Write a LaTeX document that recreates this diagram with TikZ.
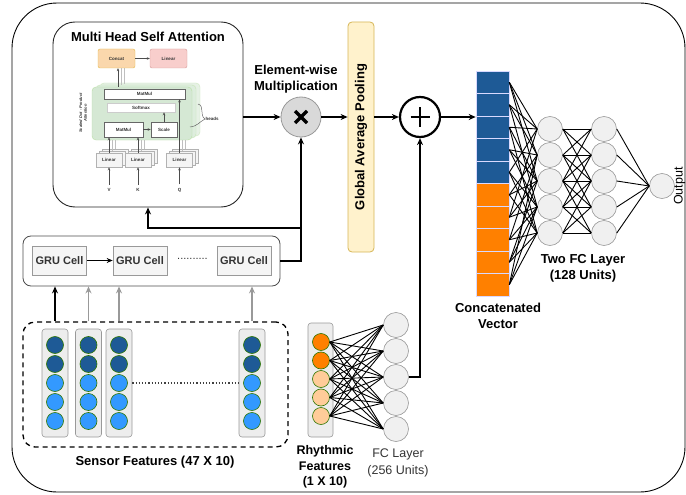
\documentclass[tikz,border=0pt]{standalone}
\usepackage{fontspec}
\setmainfont{Liberation Sans}
\usetikzlibrary{arrows.meta,calc}
\definecolor{dblue}{HTML}{1E5A96}
\definecolor{lblue}{HTML}{3399FF}
\definecolor{dorange}{HTML}{FF8000}
\definecolor{lorange}{HTML}{FFCC99}
\definecolor{cgreen}{HTML}{2D7600}
\definecolor{ngray}{HTML}{F0F0F0}
\definecolor{sgray}{HTML}{999999}
\definecolor{gapfill}{HTML}{FFF2CC}
\definecolor{gapdraw}{HTML}{D6B656}
\definecolor{concfill}{HTML}{FAD7AC}
\definecolor{concdraw}{HTML}{D79B00}
\definecolor{linfill}{HTML}{F8CECC}
\definecolor{lindraw}{HTML}{B85450}
\definecolor{grfill}{HTML}{D5E8D4}
\definecolor{grdraw}{HTML}{B9E0A5}
\definecolor{txt}{HTML}{333333}
\begin{document}
\begin{tikzpicture}[x=1pt,y=-1pt,
  arr/.style={-{Stealth[length=7pt,width=6pt]}, line width=1.1pt},
  garr/.style={-{Stealth[length=7pt,width=6pt]}, line width=1.1pt, draw=sgray},
  tarr/.style={-{Stealth[length=3pt,width=2.5pt]}, line width=0.6pt, draw=black!70},
  faint/.style={line width=0.5pt, draw=black!25},
  neuron/.style={circle, draw=sgray, fill=ngray, minimum size=25pt, inner sep=0pt, line width=0.6pt},
  feat/.style={circle, draw=cgreen, minimum size=17pt, inner sep=0pt, line width=0.6pt},
  colrect/.style={rectangle, rounded corners=3pt, draw=sgray, fill=black!7, minimum width=26pt, minimum height=108pt, inner sep=0pt, line width=0.6pt},
  cell/.style={rectangle, draw=white!85!blue, line width=0.6pt, minimum width=33pt, minimum height=22.5pt, inner sep=0pt},
  grucell/.style={rectangle, draw=sgray, fill=black!4, minimum width=54pt, minimum height=29pt, inner sep=0pt, font=\fontsize{11}{13}\selectfont\bfseries, text=txt, line width=0.7pt},
  tiny/.style={font=\fontsize{4.5}{5.5}\selectfont\bfseries, text=txt},
  inbox/.style={rectangle, draw=black!60, fill=white, inner sep=0pt, line width=0.5pt, tiny},
  linbox/.style={rectangle, draw=black!30, fill=white!96!black, minimum width=26pt, minimum height=14pt, inner sep=0pt, line width=0.5pt, tiny},
  lbl/.style={font=\fontsize{13}{16}\selectfont\bfseries, align=center},
  nn/.style={line width=0.9pt}]
\useasboundingbox (0,0) rectangle (686,495);

% outer frame
\draw[line width=0.9pt, rounded corners=45pt] (12,3) rectangle (685,492);

% ---------------- Multi head self attention ----------------
\node[draw=black!85, line width=0.9pt, rounded corners=22pt, minimum width=190pt, minimum height=185pt, inner sep=0pt] (mhsa) at (148,114.5) {};
\node[font=\fontsize{13}{15}\selectfont\bfseries] (mtitle) at (148,37) {Multi Head Self Attention};

\node[rectangle, rounded corners=2pt, draw=concdraw!70, fill=concfill, minimum width=37pt, minimum height=19pt, inner sep=0pt, tiny] (concat) at (116.5,58.5) {Concat};
\node[rectangle, rounded corners=2pt, draw=lindraw!60, fill=linfill, minimum width=37pt, minimum height=19pt, inner sep=0pt, tiny] (lin) at (168.5,58.5) {Linear};
\draw[tarr] (concat) -- (lin);

% green stacked layers
\draw[rounded corners=4pt, fill=grfill!60, draw=grdraw!70, line width=0.4pt] (100,83) rectangle (200,136);
\draw[rounded corners=4pt, fill=grfill!80, draw=grdraw!80, line width=0.4pt] (96,85) rectangle (196,138);
\draw[rounded corners=4pt, fill=grfill, draw=grdraw, line width=0.4pt] (92,87) rectangle (192,140);
\coordinate (gtop) at (118,87);
\coordinate (gbot) at (118,140);

\node[inbox, minimum width=81pt, minimum height=10pt] (mm2) at (144.5,94) {MatMul};
\node[inbox, draw=black!20, minimum width=68pt, minimum height=9pt] (sm) at (141,107.5) {Softmax};
\node[inbox, minimum width=39pt, minimum height=15pt] (mm1) at (123.5,129.5) {MatMul};
\node[inbox, minimum width=26pt, minimum height=15pt] (sc) at (164,129.5) {Scale};
\draw[tarr] (mm1) -- (sc);
\draw[tarr] (sc.north) -- (sc.north |- sm.south);

\node[rotate=90, align=center, font=\fontsize{4}{4.8}\selectfont\bfseries\itshape, text=txt] (sdpa) at (83,113) {Scaled Dot - Product\\Attention};

% heads brace
\draw[black!60, line width=0.5pt] (198,104) .. controls (205,106) and (199,115) .. (205,119) .. controls (199,122) and (198,126) .. (190,127);
\node[tiny, anchor=west, inner sep=0.5pt] (heads) at (205,119) {heads};

% linear boxes with stacked copies
\foreach \n/\x/\l in {lv/109/V,lk/138/K,lq/179.5/Q} {
  \node[linbox] at (\x+6,156) {};
  \node[linbox] at (\x+3,158) {};
  \node[linbox] (\n) at (\x,160) {Linear};
  \node[tiny] (\n lab) at (\x,190) {\l};
  \draw[tarr] (\n lab.north) -- (\n.south);
  \draw[faint] (\x+3,151) -- (\x+3,140);
  \draw[faint] (\x+6,149) -- (\x+6,140);
}
\draw[tarr] (lv.north) -- (lv.north |- mm1.south);
\draw[tarr] (lk.north) -- (lk.north |- mm1.south);
\draw[tarr] (lq.north) -- (lq.north |- mm2.south);
\draw[tarr] (gtop) -- (gtop |- concat.south);
\draw[faint] (121,85) -- (121,68);
\draw[faint] (124,84) -- (124,68);

% ---------------- element-wise multiplication ----------------
\node[circle, draw=sgray, fill=black!15, minimum size=40pt, inner sep=0pt, line width=0.8pt] (mul) at (301,117) {};
\draw[line width=3.3pt] ($(mul)+(-6,-6)$) -- ($(mul)+(6,6)$);
\draw[line width=3.3pt] ($(mul)+(-6,6)$) -- ($(mul)+(6,-6)$);
\node[lbl] (multxt) at (296,79.5) {Element-wise\\Multiplication};
\draw[arr] (mhsa.east |- mul) -- (mul);

% global average pooling
\node[rectangle, rounded corners=4pt, draw=gapdraw, fill=gapfill, minimum width=26pt, minimum height=230pt, inner sep=0pt, line width=0.8pt] (gap) at (361,137) {};
\node[rotate=90, font=\fontsize{13}{15}\selectfont\bfseries] (gaptxt) at (gap) {Global Average Pooling};
\draw[arr] (mul) -- (mul -| gap.west);

% plus
\node[circle, draw=black, fill=white, minimum size=40pt, inner sep=0pt, line width=2.2pt] (plus) at (420,117) {};
\draw[line width=2.2pt] ($(plus)+(-9.5,0)$) -- ($(plus)+(9.5,0)$);
\draw[line width=2.2pt] ($(plus)+(0,-9.5)$) -- ($(plus)+(0,9.5)$);
\draw[arr] (gap.east |- plus) -- (plus);

% concatenated vector
\foreach \i in {1,...,5} {
  \node[cell, fill=dblue] (c\i) at (492.5,{71+22.5*(\i-0.5)}) {};
}
\foreach \i in {6,...,10} {
  \node[cell, fill=dorange] (c\i) at (492.5,{71+22.5*(\i-0.5)}) {};
}
\draw[arr] (plus) -- (plus -| c1.west);
\node[lbl] (cvtxt) at (498,316) {Concatenated\\Vector};

% FC layers
\foreach \i/\y in {1/129,2/155,3/181,4/207,5/233} {
  \node[neuron] (f\i) at (550,\y) {};
  \node[neuron] (h\i) at (604,\y) {};
}
\node[neuron] (out) at (662,186) {};
\node[rotate=90, font=\fontsize{12.5}{15}\selectfont, inner sep=0pt] (outtxt) at (679.5,186) {Output};
\node[lbl] (fc2txt) at (583,268.5) {Two FC Layer\\(128 Units)};

\foreach \a/\b in {1/1,1/2,1/3,2/1,2/2,2/4,3/1,3/3,3/5,4/2,4/3,4/4,5/1,5/4,5/5,6/2,6/3,6/5,7/1,7/3,7/4,8/2,8/4,8/5,9/3,9/4,9/5,10/2,10/4,10/5} {
  \draw[nn] (c\a.east) -- (f\b.west);
}
\foreach \a in {1,...,5} {
  \foreach \b in {1,...,5} {
    \pgfmathtruncatemacro\d{abs(\a-\b)}
    \ifnum\d<3 \draw[nn] (f\a.east) -- (h\b.west); \fi
  }
  \draw[nn] (h\a.east) -- (out.west);
}

% ---------------- GRU ----------------
\node[rectangle, rounded corners=8pt, draw=black!70, minimum width=257pt, minimum height=50pt, inner sep=0pt, line width=0.8pt] (gru) at (151.5,261) {};
\node[grucell] (gc1) at (59.5,260.5) {GRU Cell};
\node[grucell] (gc2) at (140,260.5) {GRU Cell};
\node[grucell] (gc3) at (244,260.5) {GRU Cell};
\node[font=\fontsize{11}{13}\selectfont, text=txt] (gdots) at (192.5,259) {..........};
\draw[-{Stealth[length=6pt,width=5pt]}, line width=0.9pt] (gc1) -- (gc2);

\draw[arr] (gru.east) -| (mul.south);
\coordinate (br) at (301,228);
\draw[arr] (br) -| (mhsa.south);

% ---------------- sensor features ----------------
\node[rectangle, rounded corners=12pt, draw=black, dash pattern=on 5pt off 4pt, line width=1.3pt, minimum width=265pt, minimum height=125pt, inner sep=0pt] (sens) at (155.5,384.5) {};
\foreach \k/\x in {1/55,2/88.5,3/119,4/252} {
  \node[colrect] (k\k) at (\x,383) {};
  \foreach \j/\y in {1/345,2/364,3/383,4/402,5/421} {
    \ifnum\j<3
      \node[feat, fill=dblue] (k\k c\j) at (\x,\y) {};
    \else
      \node[feat, fill=lblue] (k\k c\j) at (\x,\y) {};
    \fi
  }
}
\draw[line width=1.2pt, dash pattern=on 1.2pt off 2pt, draw=black!75] (k3.east |- k3c3) -- (k4.west |- k4c3);
\draw[arr] (k1 |- sens.north) -- (k1 |- gru.south);
\draw[garr] (k2 |- sens.north) -- (k2 |- gru.south);
\draw[garr] (k3 |- sens.north) -- (k3 |- gru.south);
\draw[garr] (k4 |- sens.north) -- (k4 |- gru.south);
\node[lbl] (senstxt) at (155,462) {Sensor Features (47 X 10)};

% ---------------- rhythmic features ----------------
\node[rectangle, rounded corners=3pt, draw=sgray, fill=black!7, minimum width=25pt, minimum height=114pt, inner sep=0pt, line width=0.6pt] (rc) at (320.5,380) {};
\foreach \j/\y in {1/342,2/360.5,3/379,4/397.5,5/416} {
  \ifnum\j<3
    \node[feat, fill=dorange] (r\j) at (321,\y) {};
  \else
    \node[feat, fill=lorange] (r\j) at (321,\y) {};
  \fi
}
\foreach \i/\y in {1/325,2/351,3/377,4/403,5/429} {
  \node[neuron] (p\i) at (396,\y) {};
}
\foreach \a in {1,...,5} {
  \foreach \b in {1,...,5} {
    \draw[nn] (r\a.east) -- (p\b.west);
  }
}
\draw[arr] (p3.east) -| (plus.south);
\node[font=\fontsize{12.5}{15.5}\selectfont\bfseries, align=center] (rtxt) at (325,467) {Rhythmic\\Features\\(1 X 10)};
\node[font=\fontsize{12.5}{17.5}\selectfont, align=center, text=txt] (fc1txt) at (398,463) {FC Layer\\(256 Units)};
\end{tikzpicture}
\end{document}
